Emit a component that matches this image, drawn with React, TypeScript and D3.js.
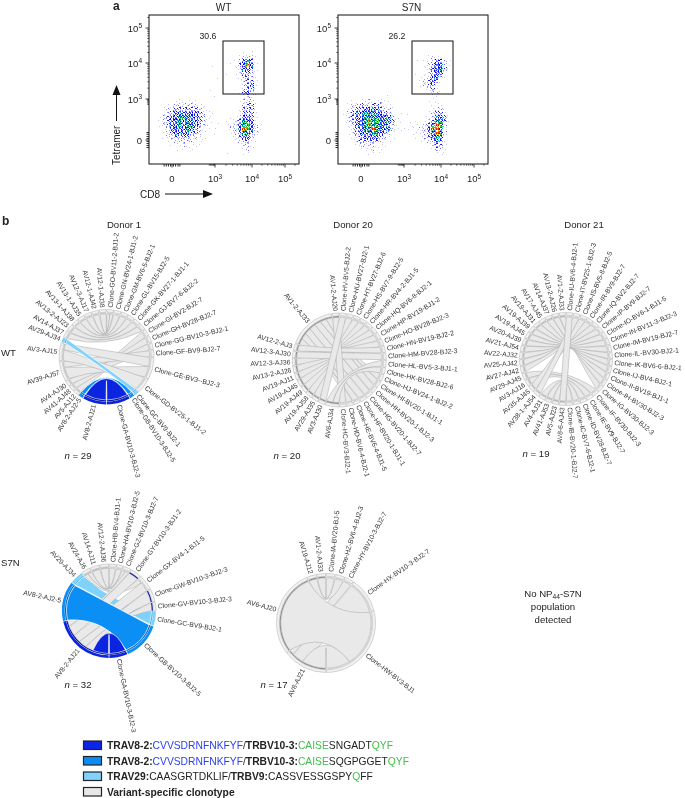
import React from "react";
import * as d3 from "d3";

const FONT = '"Liberation Sans", Arial, sans-serif';
const INK = "#222";

// ---------- flow plots: density (row, first column, level per cell) ----------
type Span = [number, number, string];
const wtDensity: Span[] = [
  [9, 23, "101"], [10, 22, "12221"], [11, 21, "124531"], [12, 20, "1135641"], [12, 15, "1"], [13, 21, "124431"],
  [14, 19, "1"], [14, 21, "123321"], [15, 22, "13321"], [15, 16, "1"], [16, 22, "12331"], [17, 23, "2341"], [18, 23, "2331"], [18, 15, "1"],
  [19, 22, "13421"], [20, 23, "1210"], [20, 16, "1"], [21, 22, "1222"], [21, 6, "111111"], [22, 23, "2331"], [22, 4, "1122222211"],
  [23, 22, "13331"], [23, 3, "122333333211"], [24, 3, "1234444443211"], [24, 22, "13331"], [25, 2, "12344555443211"],
  [25, 20, "1124431"], [26, 2, "12345545443211"], [26, 19, "11235541"], [27, 2, "1234454554321"], [27, 17, "1"], [27, 19, "122456421"],
  [28, 3, "124544543211"], [28, 16, "1"], [28, 19, "122466421"], [29, 3, "123444433210"], [29, 20, "12355321"], [29, 16, "1"],
  [30, 3, "12233332211"], [30, 20, "1134421"], [31, 4, "1122222111"], [31, 21, "123311"], [32, 5, "11121111"], [32, 22, "1221"],
  [33, 6, "10111"], [33, 23, "121"], [34, 23, "11"], [34, 19, "1"],
];
const s7nDensity: Span[] = [
  [10, 22, "1211"], [11, 21, "1124321"], [11, 19, "1"], [12, 21, "1235421"], [13, 21, "1245531"], [14, 21, "123541"], [14, 19, "1"],
  [15, 20, "1124421"], [16, 20, "123431"], [17, 20, "12331"], [18, 21, "1231"], [19, 22, "1221"], [20, 23, "11"], [20, 12, "1"],
  [21, 3, "1011211211"], [21, 22, "101"], [22, 2, "12232233211"], [22, 23, "111"], [23, 2, "123344443221"], [23, 23, "1221"],
  [24, 1, "1234455544321"], [24, 15, "101"], [24, 22, "12331"], [25, 1, "12344555555421"], [25, 21, "1124431"],
  [26, 1, "12345565655431"], [26, 15, "101"], [26, 19, "101235531"], [27, 2, "1245565555321"], [27, 18, "111235652"],
  [28, 2, "1234556554421"], [28, 15, "11"], [28, 17, "1112246641"], [29, 2, "123445554321"], [29, 18, "111235652"],
  [30, 3, "12344443211"], [30, 19, "11235541"], [31, 3, "1233333211"], [31, 20, "1123431"], [32, 4, "12222111"], [32, 22, "12331"],
  [33, 5, "111211"], [33, 23, "1321"], [34, 7, "1101"], [34, 24, "111"],
];
const dotsPerLevel = [0, 1, 3, 5, 8, 11, 13];
const levelColors: string[][] = [
  [],
  ["#c6c6fb"],
  ["#9c9cff", "#c6c6fb", "#6a6aff"],
  ["#2a2aee", "#7a7aff", "#1010e0", "#a4a4ff"],
  ["#0000e0", "#3a3aff", "#22aaee", "#1010d8", "#6a6aff"],
  ["#0000d8", "#22cc88", "#2a4cff", "#33cc44", "#00aacc", "#1a1ae8"],
  ["#33cc44", "#ffcc00", "#ee8800", "#44dd44", "#ee3300", "#2244ff"],
];
const bayer = [0, 10, 2, 8, 5, 15, 7, 13, 1, 11, 3, 9, 4, 14, 6, 12];

const axisDecades = [0, 3, 4, 5];
const xRangeWT = [172, 215, 252, 285];
const yRange = [140, 99, 63, 28];
const biexMinor = [-0.55, -0.4, -0.25, -0.1, 0.1, 0.25, 0.42, 0.55];
const logMinor = [2, 3, 4, 5, 6, 7, 8, 9];
const gatePct = ["30.6", "26.2"];
const plotTitles = ["WT", "S7N"];

// ---------- chord diagrams: [TCRa index, clone index, width at TCRa, width at clone, colour] ----------
type Link = [number, number, number, number, string?];
const ribbonPalette: Record<string, string> = { dark: "#0a23e0", mid: "#0a8ff5", light: "#7dd2fb" };
const trackPalette: Record<string, string> = { dark: "#0a1a9a", mid: "#0a5ac0", light: "#50aadd" };

const d1wtClones = ["Clone-GO-BV11-2-BJ1-2", "Clone-GN-BV24-1-BJ1-2", "Clone-GM-BV6-5-BJ2-1", "Clone-GL-BV15-BJ2-5", "Clone-GK-BV27-1-BJ1-1", "Clone-GJ-BV7-6-BJ2-2", "Clone-GI-BV2-BJ2-7", "Clone-GH-BV28-BJ2-7", "Clone-GG-BV10-3-BJ2-1", "Clone-GF-BV9-BJ2-7", "Clone-GE-BV3--BJ2-3", "Clone-GD-BV25-1-BJ1-2", "Clone-GC-BV9-BJ2-1", "Clone-GB-BV10-3-BJ2-5", "Clone-GA-BV10-3-BJ2-3"];
const d1wtAvs = ["AV8-2-AJ21", "AV8-2-AJ2-5", "AV5-AJ12", "AV41-AJ48", "AV4-AJ30", "AV39-AJ57", "AV3-AJ15", "AV29-AJ34", "AV14-AJ37", "AV13-2-AJ23", "AV13-1-AJ38", "AV13-1-AJ35", "AV12-3-AJ17", "AV12-1-AJ42", "AV12-1-AJ38"];
const d1wtLinks: Link[] = [
  [14, 0, 1.47, 0.71], [13, 0, 1.47, 0.71], [12, 1, 1.47, 1.42], [11, 2, 1.47, 1.42], [10, 3, 1.47, 1.42], [9, 4, 1.47, 1.42], [8, 5, 1.47, 1.42],
  [2, 6, 1.2, 1.42], [3, 7, 1.2, 1.42], [4, 8, 1.2, 1.42],
  [5, 9, 1.4, 1.42], [5, 10, 2.8, 2.6], [6, 10, 1.4, 2.1], [6, 11, 2.5, 3.2],
  [7, 12, 1, 1, "light"], [1, 13, 1, 1, "mid"], [0, 14, 5, 5, "dark"],
];

const d20wtClones = ["Clone-HV-BV5-BJ2-2", "Clone-HU-BV27-BJ2-1", "Clone-HT-BV27-BJ2-6", "Clone-HS-BV7-9-BJ2-5", "Clone-HR-BV4-2-BJ1-5", "Clone-HQ-BV6-8-BJ2-1", "Clone-HP-BV19-BJ1-2", "Clone-HO-BV28-BJ2-3", "Clone-HN-BV19-BJ2-2", "Clone-HM-BV28-BJ2-3", "Clone-HL-BV5-3-BJ1-1", "Clone-HK-BV28-BJ2-6", "Clone-HJ-BV24-1-BJ2-2", "Clone-HI-BV20-1-BJ1-1", "Clone-HH-BV20-1-BJ2-3", "Clone-HG-BV20-1-BJ2-7", "Clone-HF-BV20-1-BJ1-1", "Clone-HE-BV6-4-BJ1-5", "Clone-HD-BV6-4-BJ2-1", "Clone-HC-BV3-BJ2-1"];
const d20wtAvs = ["AV6-AJ34", "AV3-AJ30", "AV29-AJ35", "AV19-AJ58", "AV19-AJ49", "AV19-AJ45", "AV19-AJ11", "AV13-2-AJ26", "AV12-3-AJ36", "AV12-3-AJ30", "AV12-2-AJ3", "AV1-2-AJ33", "AV1-2-AJ20"];
const d20wtLinks: Link[] = [
  [11, 12, 1, 1], [11, 13, 1, 1], [11, 14, 1, 1], [11, 15, 1, 1], [11, 16, 1, 1], [11, 17, 1, 1], [11, 18, 1, 1],
  [2, 1, 1, 1], [3, 2, 1, 1], [4, 3, 1, 1], [5, 4, 1, 1], [6, 5, 1, 1], [7, 6, 1, 1], [8, 7, 1, 1], [10, 8, 1, 1], [9, 9, 1, 1],
  [12, 19, 1, 1], [1, 0, 1, 1], [0, 11, 1, 1], [0, 10, 1, 1],
];

const d21wtClones = ["Clone-IU-BV6-4-BJ2-1", "Clone-IT-BV25-1-BJ2-3", "Clone-IS-BV5-8-BJ2-5", "Clone-IR-BV9-BJ2-7", "Clone-IQ-BV2-BJ2-7", "Clone-IP-BV9-BJ2-7", "Clone-IO-BV6-1-BJ1-5", "Clone-IN-BV11-3-BJ2-3", "Clone-IM-BV19-BJ2-7", "Clone-IL-BV30-BJ2-1", "Clone-IK-BV6-6-BJ2-1", "Clone-IJ-BV4-BJ2-1", "Clone-II-BV19-BJ1-1", "Clone-IH-BV30-BJ2-3", "Clone-IG-BV30-BJ2-3", "Clone-IF-BV30-BJ2-3", "Clone-IE-BV9-BJ2-7", "Clone-ID-BV28-BJ2-7", "Clone-IC-BV7-6-BJ2-1", "Clone-IB-BV20-1-BJ2-7"];
const d21wtAvs = ["AV8-6-AJ43", "AV5-AJ23", "AV41-AJ53", "AV4-AJ31", "AV38-1-AJ54", "AV35-AJ45", "AV3-AJ16", "AV29-AJ45", "AV27-AJ42", "AV25-AJ42", "AV22-AJ32", "AV21-AJ54", "AV20-AJ39", "AV19-AJ45", "AV19-AJ39", "AV19-AJ31", "AV17-AJ45", "AV14-AJ37", "AV13-2-AJ26", "AV1-2-AJ33"];
const d21wtLinks: Link[] = [
  [7, 15, 1, 1], [6, 16, 1, 1], [3, 17, 1, 1], [2, 18, 1, 1], [1, 19, 1, 1],
  [19, 14, 1, 1], [18, 13, 1, 1], [17, 12, 1, 1], [16, 11, 1, 1], [15, 10, 1, 1], [14, 9, 1, 1], [13, 8, 1, 1], [12, 7, 1, 1], [11, 6, 1, 1], [10, 5, 1, 1], [9, 4, 1, 1], [8, 3, 1, 1],
  [5, 2, 1, 1], [4, 1, 1, 1], [0, 0, 1, 1],
];

const d1s7nClones = ["Clone-HB-BV4-BJ1-1", "Clone-HA-BV10-3-BJ2-5", "Clone-GZ-BV10-3-BJ2-7", "Clone-GY-BV10-3-BJ1-2", "Clone-GX-BV4-1-BJ1-5", "Clone-GW-BV10-3-BJ2-3", "Clone-GV-BV10-3-BJ2-3", "Clone-GC-BV9-BJ2-1", "Clone-GB-BV10-3-BJ2-5", "Clone-GA-BV10-3-BJ2-3"];
const d1s7nAvs = ["AV8-2-AJ21", "AV8-2-AJ2-5", "AV29-AJ34", "AV24-AJ6", "AV14-AJ11", "AV12-2-AJ36"];
const d1s7nLinks: Link[] = [
  [2, 7, 3, 3.4, "light"],
  [5, 0, 2, 1.6], [4, 1, 2, 1.4], [3, 2, 1, 0.9], [3, 4, 1, 1.2], [0, 2, 1.5, 0.9], [0, 3, 2.5, 2.6], [0, 4, 2, 2.4], [0, 5, 2, 3], [0, 6, 2, 2],
  [1, 8, 9, 9, "mid"], [0, 9, 4, 4.3, "dark"],
];

const d20s7nClones = ["Clone-IA-BV20-BJ-5", "Clone-HZ-BV6-4-BJ2-3", "Clone-HY-BV10-3-BJ2-7", "Clone-HX-BV10-3-BJ2-7", "Clone-HW-BV3-BJ1"];
const d20s7nAvs = ["AV8-AJ21", "AV6-AJ20", "AV19-AJ12", "AV1-2-AJ33"];
const d20s7nLinks: Link[] = [
  [0, 2, 0.6, 1], [0, 3, 1.4, 4], [0, 4, 3, 3], [2, 1, 1, 1], [3, 0, 1, 1], [1, 4, 10, 7],
];

const legendRows: { color: string; parts: [string, string, boolean][] }[] = [
  { color: "#0a23e8", parts: [["TRAV8-2:", INK, true], ["CVVSDRNFNKFYF", "#2a3cf0", false], ["/", INK, false], ["TRBV10-3:", INK, true], ["CAISE", "#3fbf4a", false], ["SNGADT", INK, false], ["QYF", "#3fbf4a", false]] },
  { color: "#0a8cf5", parts: [["TRAV8-2:", INK, true], ["CVVSDRNFNKFYF", "#2a3cf0", false], ["/", INK, false], ["TRBV10-3:", INK, true], ["CAISE", "#3fbf4a", false], ["SQGPGGET", INK, false], ["QYF", "#3fbf4a", false]] },
  { color: "#7fd2ff", parts: [["TRAV29:", INK, true], ["CAASGRTDKLIF", INK, false], ["/", INK, false], ["TRBV9:", INK, true], ["CASSVESSGSPY", INK, false], ["Q", "#3fbf4a", false], ["FF", INK, false]] },
  { color: "#e8e8e8", parts: [["Variant-specific clonotype", INK, true]] },
];

const deg = Math.PI / 180;

// ---------- components ----------
function FlowPlot({ shift, density, pct, title }: { shift: number; density: Span[]; pct: string; title: string }) {
  const x = d3.scaleLinear().domain(axisDecades).range(xRangeWT.map((v) => v + shift));
  const y = d3.scaleLinear().domain(axisDecades).range(yRange);
  const L = 149 + shift, R = 299 + shift, T = 15, B = 164;
  const colX = d3.scaleLinear().domain([0, 37]).range([L + 1, L + 149]);
  const rowY = d3.scaleLinear().domain([0, 37]).range([T, T + 148]);
  const byColor = new Map<string, string>();
  density.forEach(([r, c0, levels]) => {
    levels.split("").forEach((ch, i) => {
      const lv = +ch;
      if (!lv) return;
      const c = c0 + i;
      const start = (c * 7 + r * 11) % 16;
      for (let k = 0; k < dotsPerLevel[lv]; k++) {
        const b = bayer[(start + k * 5) % 16];
        const px = Math.round(colX(c)) + (b % 4);
        const py = Math.round(rowY(r)) + Math.floor(b / 4);
        const pal = levelColors[lv];
        const col = pal[(c * 3 + r * 5 + k) % pal.length];
        byColor.set(col, (byColor.get(col) || "") + `M${px} ${py}h1v1h-1z`);
      }
    });
  });
  const minor = [2, 3, 4, 5].flatMap((d) => logMinor.map((k) => d + Math.log10(k)));
  const xMinor = minor.filter((v) => x(v) < R - 1 && v > 2.5);
  const yMinor = minor.filter((v) => y(v) > T + 1 && v > 2.5);
  const label = (d: number) => (d === 0 ? "0" : null);
  return (
    <g fontFamily={FONT} fill={INK}>
      <g filter="url(#soft)">
        {[...byColor.entries()].map(([c, p]) => <path key={c} d={p} fill={c} />)}
      </g>
      <rect x={L} y={T} width={R - L} height={B - T} fill="none" stroke="#111" strokeWidth={1} />
      {axisDecades.map((d) => (
        <g key={d}>
          <line x1={x(d)} x2={x(d)} y1={B} y2={B + 3.5} stroke="#111" strokeWidth={0.8} />
          <line x1={L} x2={L - 3.5} y1={y(d)} y2={y(d)} stroke="#111" strokeWidth={0.8} />
          <text x={x(d)} y={182} fontSize={9.5} textAnchor="middle">
            {label(d) ?? <>10<tspan fontSize={6.5} dy={-3.5}>{d}</tspan></>}
          </text>
          <text x={L - 7} y={y(d) + 3.5} fontSize={9.5} textAnchor="end">
            {label(d) ?? <>10<tspan fontSize={6.5} dy={-3.5}>{d}</tspan></>}
          </text>
        </g>
      ))}
      {xMinor.map((v) => <line key={v} x1={x(v)} x2={x(v)} y1={B} y2={B + 1.8} stroke="#111" strokeWidth={0.6} />)}
      {yMinor.map((v) => <line key={v} x1={L} x2={L - 1.8} y1={y(v)} y2={y(v)} stroke="#111" strokeWidth={0.6} />)}
      {biexMinor.map((v) => (
        <g key={v}>
          <line x1={x(v)} x2={x(v)} y1={B} y2={B + 2.5} stroke="#111" strokeWidth={0.9} />
          <line x1={L} x2={L - 2.5} y1={y(v)} y2={y(v)} stroke="#111" strokeWidth={0.9} />
        </g>
      ))}
      <rect x={223 + shift} y={41} width={41} height={53} fill="none" stroke="#111" strokeWidth={1} />
      <text x={208 + shift} y={39} fontSize={8.7} textAnchor="middle">{pct}</text>
      <text x={223.5 + shift - (shift ? 1 : 0)} y={11} fontSize={10} textAnchor="middle">{title}</text>
    </g>
  );
}

type Arc = { startAngle: number; endAngle: number };
function ribbonPath(s: Arc, t: Arc, r: number): string {
  const pt = (a: number): [number, number] => [r * Math.sin(a), -r * Math.cos(a)];
  const p = d3.path();
  const edge = (from: number, to: number) => {
    const [x0, y0] = pt(from);
    const [x1, y1] = pt(to);
    const mx = (x0 + x1) / 2, my = (y0 + y1) / 2;
    const d = Math.hypot(mx, my) / r || 1e-6;
    const c = Math.min(d, 0.15 + 0.4 * d);
    const k = (2 * c - d) / d;
    p.quadraticCurveTo(mx * k, my * k, x1, y1);
  };
  const [sx, sy] = pt(s.startAngle);
  p.moveTo(sx, sy);
  p.arc(0, 0, r, s.startAngle - Math.PI / 2, s.endAngle - Math.PI / 2);
  edge(s.endAngle, t.startAngle);
  p.arc(0, 0, r, t.startAngle - Math.PI / 2, t.endAngle - Math.PI / 2);
  edge(t.endAngle, s.startAngle);
  p.closePath();
  return p.toString();
}

function Chord({ cx, cy, r, avs, clones, links, avTrack = "#8f8f8f" }: { cx: number; cy: number; r: number; avs: string[]; clones: string[]; links: Link[]; avTrack?: string }) {
  const pad = 0.9 * deg;
  const widths = (names: string[], pick: (l: Link) => number, key: 0 | 1) => names.map((_, i) => d3.sum(links.filter((l) => l[key] === i), pick));
  const avW = widths(avs, (l) => l[2], 0);
  const clW = widths(clones, (l) => l[3], 1);
  const scaleFor = (w: number[]) => (Math.PI - pad * w.length) / d3.sum(w);
  const place = (w: number[], from: number): Arc[] => {
    const s = scaleFor(w);
    let a = from;
    return w.map((v) => {
      const arc = { startAngle: a + pad / 2, endAngle: a + pad / 2 + v * s };
      a = arc.endAngle + pad / 2;
      return arc;
    });
  };
  const clArcs = place(clW, 0);
  const avArcs = place(avW, Math.PI);
  const order = links.map((_, i) => i);
  const clEnds: Arc[] = [], avEnds: Arc[] = [];
  const cs = scaleFor(clW), as = scaleFor(avW);
  clones.forEach((_, i) => {
    let a = clArcs[i].startAngle;
    order.filter((k) => links[k][1] === i).sort((p, q) => links[q][0] - links[p][0] || p - q).forEach((k) => {
      clEnds[k] = { startAngle: a, endAngle: a + links[k][3] * cs };
      a = clEnds[k].endAngle;
    });
  });
  avs.forEach((_, i) => {
    let a = avArcs[i].startAngle;
    order.filter((k) => links[k][0] === i).sort((p, q) => links[q][1] - links[p][1] || q - p).forEach((k) => {
      avEnds[k] = { startAngle: a, endAngle: a + links[k][2] * as };
      a = avEnds[k].endAngle;
    });
  });
  const avColor = avs.map((_, i) => links.find((l) => l[0] === i && l[4])?.[4]);
  const clColor = clones.map((_, i) => links.find((l) => l[1] === i && l[4])?.[4]);
  const clPartner = clones.map((_, i) => avColor[links.find((l) => l[1] === i)![0]]);
  const band = d3.arc<Arc>().innerRadius(r - 2.8).outerRadius(r);
  const track = d3.arc<Arc>().innerRadius(r - 4.2).outerRadius(r - 3.1);
  const sector = (a: Arc, color: string | undefined, trackColor: string, key: string) => (
    <g key={key}>
      <path d={band(a)!} fill={color ? ribbonPalette[color] : "#f1f1f1"} stroke={color ? "none" : "#adadad"} strokeWidth={0.5} />
      <path d={track(a)!} fill={trackColor} />
    </g>
  );
  const labelOf = (name: string, a: Arc, key: string) => {
    const mid = ((a.startAngle + a.endAngle) / 2) / deg;
    const right = mid < 180;
    return (
      <text key={key} fontSize={6.8} fill="#333" textAnchor={right ? "start" : "end"}
        transform={`rotate(${right ? mid - 90 : mid + 90}) translate(${right ? r + 2 : -(r + 2)},2.3)`}>{name}</text>
    );
  };
  return (
    <g transform={`translate(${cx},${cy})`} fontFamily={FONT}>
      {links.map((l, k) => (
        <path key={k} d={ribbonPath(avEnds[k], clEnds[k], r - 4.4)}
          fill={l[4] ? ribbonPalette[l[4]] : "#e9e9e9"} stroke={l[4] ? "#fff" : "#a6a6a6"} strokeWidth={l[4] ? 0.7 : 0.5} />
      ))}
      {avArcs.map((a, i) => sector(a, avColor[i], avColor[i] ? trackPalette[avColor[i]!] : avTrack, "a" + i))}
      {clArcs.map((a, i) => sector(a, clColor[i], clColor[i] ? trackPalette[clColor[i]!] : clPartner[i] ? trackPalette[clPartner[i]!] : "#cfcfcf", "c" + i))}
      {avs.map((n, i) => labelOf(n, avArcs[i], "la" + i))}
      {clones.map((n, i) => labelOf(n, clArcs[i], "lc" + i))}
    </g>
  );
}

function NLabel({ x, y, n }: { x: number; y: number; n: number }) {
  return (
    <text x={x} y={y} fontFamily={FONT} fontSize={9.6} fill={INK} textAnchor="middle">
      <tspan fontStyle="italic">n</tspan> = {n}
    </text>
  );
}

function T({ x, y, s, size = 9.6, anchor = "start", bold = false }: { x: number; y: number; s: string; size?: number; anchor?: string; bold?: boolean }) {
  return <text x={x} y={y} fontFamily={FONT} fontSize={size} fill={INK} textAnchor={anchor as any} fontWeight={bold ? 700 : 400}>{s}</text>;
}

export default function App() {
  return (
    <svg width={685} height={798} viewBox="0 0 685 798" style={{ position: "absolute", left: 0, top: 0, display: "block", background: "#fff" }}>
      <defs>
        <filter id="soft" x="0" y="0" width="100%" height="100%"><feGaussianBlur stdDeviation="0.35" /></filter>
      </defs>
      <g opacity={0.995}>
      <T x={113} y={10} s="a" size={12} bold />
      <T x={2} y={225} s="b" size={12} bold />

      <FlowPlot shift={0} density={wtDensity} pct={gatePct[0]} title={plotTitles[0]} />
      <FlowPlot shift={189} density={s7nDensity} pct={gatePct[1]} title={plotTitles[1]} />

      <text transform="translate(120,165) rotate(-90)" fontFamily={FONT} fontSize={10} fill={INK}>Tetramer</text>
      <path d="M116.5 121V94" stroke="#111" strokeWidth={1} fill="none" />
      <path d="M116.5 85l4 10h-8z" fill="#111" />
      <T x={140} y={198} s="CD8" size={10} />
      <path d="M165 194H204" stroke="#111" strokeWidth={1} fill="none" />
      <path d="M213 194l-10 4v-8z" fill="#111" />

      <T x={124} y={228} s="Donor 1" anchor="middle" />
      <T x={353} y={228} s="Donor 20" anchor="middle" />
      <T x={584} y={228} s="Donor 21" anchor="middle" />
      <T x={1} y={356} s="WT" />
      <T x={1} y={566} s="S7N" />

      <Chord cx={106.5} cy={357} r={47.5} avs={d1wtAvs} clones={d1wtClones} links={d1wtLinks} avTrack="#c4c4c4" />
      <Chord cx={339.3} cy={360} r={47} avs={d20wtAvs} clones={d20wtClones} links={d20wtLinks} />
      <Chord cx={566} cy={359} r={46.5} avs={d21wtAvs} clones={d21wtClones} links={d21wtLinks} avTrack="#b8b8b8" />
      <Chord cx={109} cy={611} r={47} avs={d1s7nAvs} clones={d1s7nClones} links={d1s7nLinks} avTrack="#b8b8b8" />
      <Chord cx={326} cy={623} r={49.5} avs={d20s7nAvs} clones={d20s7nClones} links={d20s7nLinks} />

      <NLabel x={78} y={459} n={29} />
      <NLabel x={287} y={459} n={20} />
      <NLabel x={536} y={457} n={19} />
      <NLabel x={78} y={688} n={32} />
      <NLabel x={274} y={688} n={17} />

      <text x={553} y={597} fontFamily={FONT} fontSize={9.6} fill={INK} textAnchor="middle">
        No NP<tspan fontSize={6.6} dy={2}>44</tspan><tspan dy={-2}>-S7N</tspan>
      </text>
      <T x={553} y={610} s="population" anchor="middle" />
      <T x={553} y={623} s="detected" anchor="middle" />

      {legendRows.map((row, i) => {
        const y = d3.scaleLinear().domain([0, 3]).range([741, 787.5])(i);
        return (
          <g key={i}>
            <rect x={83.5} y={y} width={18} height={8.5} fill={row.color} stroke="#222" strokeWidth={1.2} />
            <text x={107} y={y + 8} fontFamily={FONT} fontSize={10.3}>
              {row.parts.map(([s, c, b], j) => <tspan key={j} fill={c} fontWeight={b ? 700 : 400}>{s}</tspan>)}
            </text>
          </g>
        );
      })}
      </g>
    </svg>
  );
}
